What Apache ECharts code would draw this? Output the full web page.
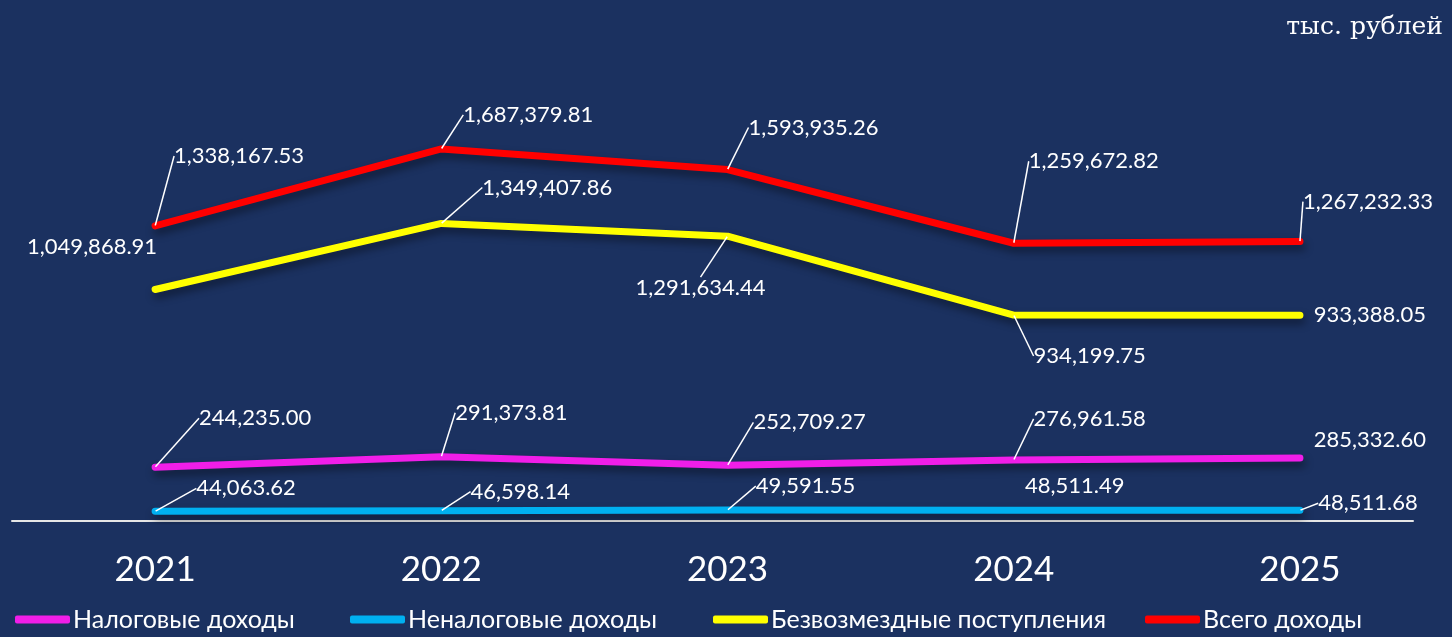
<!DOCTYPE html>
<html>
<head>
<meta charset="utf-8">
<script src="https://cdn.jsdelivr.net/npm/echarts@6/dist/echarts.min.js"></script>
<style>
  html, body { margin: 0; padding: 0; background: #1b3160; }
  #chart { width: 1452px; height: 637px; }
</style>
</head>
<body>
<div id="chart"></div>
<script>
// данные, тыс. рублей
const years = [2021, 2022, 2023, 2024, 2025]
const taxIncome = [244235.00, 291373.81, 252709.27, 276961.58, 285332.60]
const nonTaxIncome = [44063.62, 46598.14, 49591.55, 48511.49, 48511.68]
const grants = [1049868.91, 1349407.86, 1291634.44, 934199.75, 933388.05]
const totalIncome = [1338167.53, 1687379.81, 1593935.26, 1259672.82, 1267232.33]

const seriesNames = ['Налоговые доходы', 'Неналоговые доходы', 'Безвозмездные поступления', 'Всего доходы']
const seriesColors = ['#f01ee8', '#00b0f0', '#ffff00', '#ff0000']
const legendLeft = [10, 345, 708, 1140]

// смещения подписей от точки (центр подписи), px
const labelShift = [
  [[100, -49], [70, -44], [82, -43], [76, -41], [70, -18]],
  [[91, -23], [79, -19], [78, -24], [61, -24], [68, -7]],
  [[-63, -43], [106, -36], [-27, 52], [76, 41], [70, 0]],
  [[84, -70], [87, -34], [86, -42], [80, -82], [68, -40]]
]
// где нет выносной линии
const noLeader = [
  [false, false, false, false, true],
  [false, false, false, true, false],
  [true, false, false, false, true],
  [false, false, false, false, false]
]

const font = 'Lato, "Noto Sans", sans-serif'
const fmt = v => v.toLocaleString('en-US', { minimumFractionDigits: 2, maximumFractionDigits: 2 })

const chart = echarts.init(document.getElementById('chart'))

const makeSeries = (idx, values) => ({
  name: seriesNames[idx],
  type: 'line',
  data: values.map((v, i) => ({
    value: [years[i], v],
    labelLine: { show: !noLeader[idx][i] }
  })),
  symbol: 'circle',
  symbolSize: 1,
  itemStyle: { color: seriesColors[idx] },
  lineStyle: {
    width: 7,
    color: seriesColors[idx],
    cap: 'round',
    join: 'round',
    shadowColor: 'rgba(0,0,0,0.45)',
    shadowBlur: 8,
    shadowOffsetX: 2,
    shadowOffsetY: 5
  },
  label: {
    show: true,
    position: 'inside',
    color: '#ffffff',
    fontFamily: font,
    fontSize: 22,
    formatter: p => fmt(p.value[1])
  },
  labelLine: {
    show: true,
    lineStyle: { color: '#ffffff', width: 1.5 }
  },
  labelLayout: p => ({
    dx: labelShift[idx][p.dataIndex][0],
    dy: labelShift[idx][p.dataIndex][1]
  }),
  animation: false
})

// отдельная легенда на каждый ряд, чтобы поставить их как в оригинале
const legends = seriesNames.map((name, i) => ({
  left: legendLeft[i],
  bottom: 0,
  icon: 'roundRect',
  itemWidth: 55,
  itemHeight: 8,
  textStyle: { color: '#ffffff', fontFamily: font, fontSize: 25, padding: [0, 0, 0, -2] },
  data: [name]
}))

const option = {
  backgroundColor: '#1b3160',
  title: {
    text: 'тыс. рублей',
    right: 4,
    top: 10,
    textStyle: { color: '#ffffff', fontFamily: '"DejaVu Serif", serif', fontWeight: 'normal', fontSize: 25 }
  },
  legend: legends,
  grid: { left: 12, right: 39, top: 80, bottom: 116 },
  xAxis: {
    type: 'value',
    min: 2020.5,
    max: 2025.395,
    axisLine: { show: true, lineStyle: { color: '#e6e6e6', width: 2 } },
    axisTick: { show: false },
    splitLine: { show: false },
    axisLabel: {
      customValues: years,
      formatter: v => String(v),
      color: '#ffffff',
      fontFamily: font,
      fontSize: 35,
      margin: 31
    }
  },
  yAxis: {
    type: 'value',
    min: 0,
    max: 2000000,
    show: false,
    splitLine: { show: false }
  },
  series: [
    makeSeries(0, taxIncome),
    makeSeries(1, nonTaxIncome),
    makeSeries(2, grants),
    makeSeries(3, totalIncome)
  ]
}

chart.setOption(option)
</script>
</body>
</html>
